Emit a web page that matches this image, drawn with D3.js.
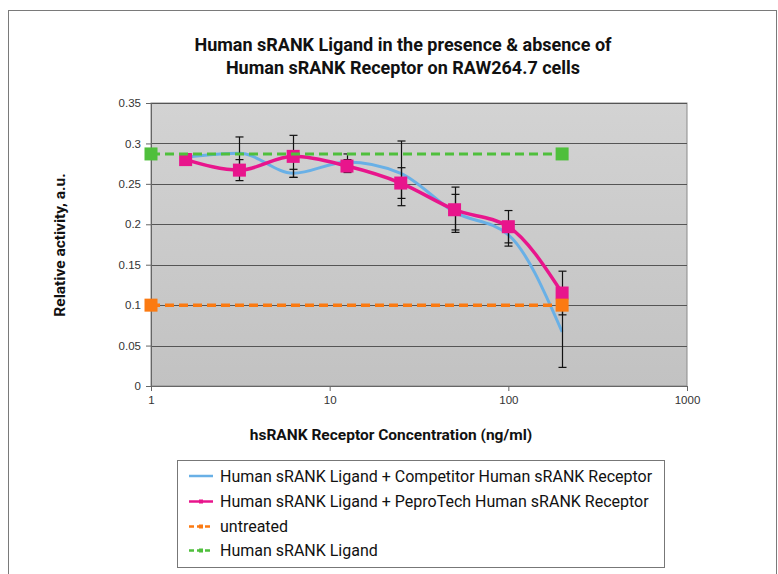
<!DOCTYPE html>
<html>
<head>
<meta charset="utf-8">
<script src="https://cdn.jsdelivr.net/npm/d3@7"></script>
<style>
  html, body { margin: 0; padding: 0; background: #fff; }
  svg { display: block; }
</style>
</head>
<body>
<svg id="chart" width="778" height="574"></svg>
<script>
// Receptor concentrations (ng/ml) for the two titration series
const concentrations = [1.5625, 3.125, 6.25, 12.5, 25, 50, 100, 200];
const competitorValues = [0.283, 0.288, 0.263, 0.277, 0.263, 0.215, 0.187, 0.067];
const competitorErrors = [0.004, 0.020, 0.005, 0.010, 0.040, 0.022, 0.014, 0.044];
const peprotechValues = [0.280, 0.267, 0.284, 0.272, 0.251, 0.218, 0.197, 0.115];
const peprotechErrors = [0.003, 0.013, 0.026, 0.008, 0.019, 0.028, 0.020, 0.027];

// Reference levels drawn across the concentration range
const controlConcentrations = [1, 200];
const untreatedValues = [0.1, 0.1];
const ligandOnlyValues = [0.287, 0.287];

const yTicks = [0, 0.05, 0.1, 0.15, 0.2, 0.25, 0.3, 0.35];
const xTicks = [1, 10, 100, 1000];

const seriesNames = [
  "Human sRANK Ligand + Competitor Human sRANK Receptor",
  "Human sRANK Ligand + PeproTech Human sRANK Receptor",
  "untreated",
  "Human sRANK Ligand"
];
const colors = ["#69b0e6", "#e8158c", "#fb7a12", "#4fbf3c"];

const svg = d3.select("#chart");
const font = "Roboto, 'Liberation Sans', Arial, sans-serif";

// Outer chart frame
svg.append("rect")
  .attr("x", 8.5).attr("y", 10.5).attr("width", 768).attr("height", 580)
  .attr("fill", "#fff").attr("stroke", "#7a7a7a").attr("stroke-width", 1);

const plot = { left: 151, right: 687, top: 103, bottom: 386 };
const x = d3.scaleLog().domain([1, 1000]).range([plot.left, plot.right]);
const y = d3.scaleLinear().domain([0, 0.35]).range([plot.bottom, plot.top]);

// Plot background gradient
const defs = svg.append("defs");
const grad = defs.append("linearGradient").attr("id", "bg")
  .attr("x1", 0).attr("y1", 0).attr("x2", 0).attr("y2", 1);
grad.append("stop").attr("offset", "0%").attr("stop-color", "#d3d3d3");
grad.append("stop").attr("offset", "100%").attr("stop-color", "#c2c2c2");

svg.append("rect")
  .attr("x", plot.left).attr("y", plot.top)
  .attr("width", plot.right - plot.left).attr("height", plot.bottom - plot.top)
  .attr("fill", "url(#bg)")
  .attr("stroke", "#8a8a8a").attr("stroke-width", 1);

// Horizontal gridlines
svg.append("g")
  .selectAll("line")
  .data(yTicks.filter(d => d > 0))
  .join("line")
  .attr("x1", plot.left).attr("x2", plot.right)
  .attr("y1", d => Math.round(y(d)) + 0.5).attr("y2", d => Math.round(y(d)) + 0.5)
  .attr("stroke", "#555").attr("stroke-width", 1);

// Axes
const yAxis = svg.append("g")
  .attr("transform", `translate(${plot.left},0)`)
  .call(d3.axisLeft(y).tickValues(yTicks).tickFormat(d => d3.format("")(+d.toFixed(2))).tickSize(5).tickPadding(5));
const xAxis = svg.append("g")
  .attr("transform", `translate(0,${plot.bottom})`)
  .call(d3.axisBottom(x).tickValues(xTicks).tickFormat(d3.format("d")).tickSize(5).tickPadding(5));
[yAxis, xAxis].forEach(g => {
  g.select(".domain").attr("stroke", "#666");
  g.selectAll(".tick line").attr("stroke", "#666");
  g.selectAll(".tick text").attr("fill", "#333")
    .style("font-family", "'Liberation Sans', Arial, sans-serif").style("font-size", "11.5px");
});

// Titles
const title = svg.append("text")
  .attr("text-anchor", "middle")
  .style("font-family", font).style("font-weight", "bold").style("font-size", "18px")
  .attr("fill", "#111");
title.append("tspan").attr("x", 403).attr("y", 51).text("Human sRANK Ligand in the presence & absence of");
title.append("tspan").attr("x", 403).attr("y", 74).text("Human sRANK Receptor on RAW264.7 cells");

svg.append("text")
  .attr("x", 391).attr("y", 440).attr("text-anchor", "middle")
  .style("font-family", font).style("font-weight", "bold").style("font-size", "15.5px")
  .attr("fill", "#111")
  .text("hsRANK Receptor Concentration (ng/ml)");

svg.append("text")
  .attr("transform", "translate(65,245) rotate(-90)")
  .attr("text-anchor", "middle")
  .style("font-family", font).style("font-weight", "bold").style("font-size", "15.5px")
  .attr("fill", "#111")
  .text("Relative activity, a.u.");

// Series data
const titration = [
  { values: competitorValues, errors: competitorErrors, color: colors[0], width: 3 },
  { values: peprotechValues, errors: peprotechErrors, color: colors[1], width: 3.5 }
];
const smooth = d3.line()
  .x(d => x(d.c)).y(d => y(d.v))
  .curve(d3.curveMonotoneX);

titration.forEach(s => {
  const pts = concentrations.map((c, i) => ({ c, v: s.values[i], e: s.errors[i] }));
  s.points = pts;
  svg.append("path").datum(pts)
    .attr("d", smooth)
    .attr("fill", "none").attr("stroke", s.color).attr("stroke-width", s.width)
    .attr("stroke-linejoin", "round");
});

// Error bars
const eb = svg.append("g").attr("stroke", "#111").attr("stroke-width", 1.2);
titration.forEach(s => {
  s.points.forEach(p => {
    const cx = Math.round(x(p.c)) + 0.5;
    eb.append("line").attr("x1", cx).attr("x2", cx).attr("y1", y(p.v - p.e)).attr("y2", y(p.v + p.e));
    [p.v - p.e, p.v + p.e].forEach(v => {
      eb.append("line").attr("x1", cx - 4).attr("x2", cx + 4).attr("y1", y(v)).attr("y2", y(v));
    });
  });
});

// PeproTech markers
svg.append("g").selectAll("rect")
  .data(titration[1].points)
  .join("rect")
  .attr("x", d => x(d.c) - 6.5).attr("y", d => y(d.v) - 6.5)
  .attr("width", 13).attr("height", 13)
  .attr("fill", colors[1]);

// Dashed reference series
const straight = d3.line().x(d => x(d.c)).y(d => y(d.v));
[
  { values: untreatedValues, color: colors[2], width: 3.5 },
  { values: ligandOnlyValues, color: colors[3], width: 3 }
].forEach(s => {
  const pts = controlConcentrations.map((c, i) => ({ c, v: s.values[i] }));
  svg.append("path").datum(pts)
    .attr("d", straight)
    .attr("fill", "none").attr("stroke", s.color).attr("stroke-width", s.width)
    .attr("stroke-dasharray", "9,5");
  svg.append("g").selectAll("rect")
    .data(pts)
    .join("rect")
    .attr("x", d => x(d.c) - 6.5).attr("y", d => y(d.v) - 6.5)
    .attr("width", 13).attr("height", 13)
    .attr("fill", s.color);
});

// Legend
const legend = svg.append("g");
legend.append("rect")
  .attr("x", 177.5).attr("y", 460.5).attr("width", 487).attr("height", 107)
  .attr("fill", "#fff").attr("stroke", "#777").attr("stroke-width", 1);
const rowY = [476, 501.5, 526.5, 550.5];
seriesNames.forEach((name, i) => {
  const g = legend.append("g").attr("transform", `translate(0,${rowY[i]})`);
  g.append("line").attr("x1", 189).attr("x2", 213).attr("y1", 0).attr("y2", 0)
    .attr("stroke", colors[i]).attr("stroke-width", 2.5)
    .attr("stroke-dasharray", i >= 2 ? "5,3" : null);
  if (i >= 1) {
    g.append("rect").attr("x", 199).attr("y", -2).attr("width", 4).attr("height", 4).attr("fill", colors[i]);
  }
  g.append("text").attr("x", 220).attr("y", 0).attr("dy", "0.35em")
    .style("font-family", font).style("font-size", "16px").attr("fill", "#111")
    .text(name);
});
</script>
</body>
</html>
